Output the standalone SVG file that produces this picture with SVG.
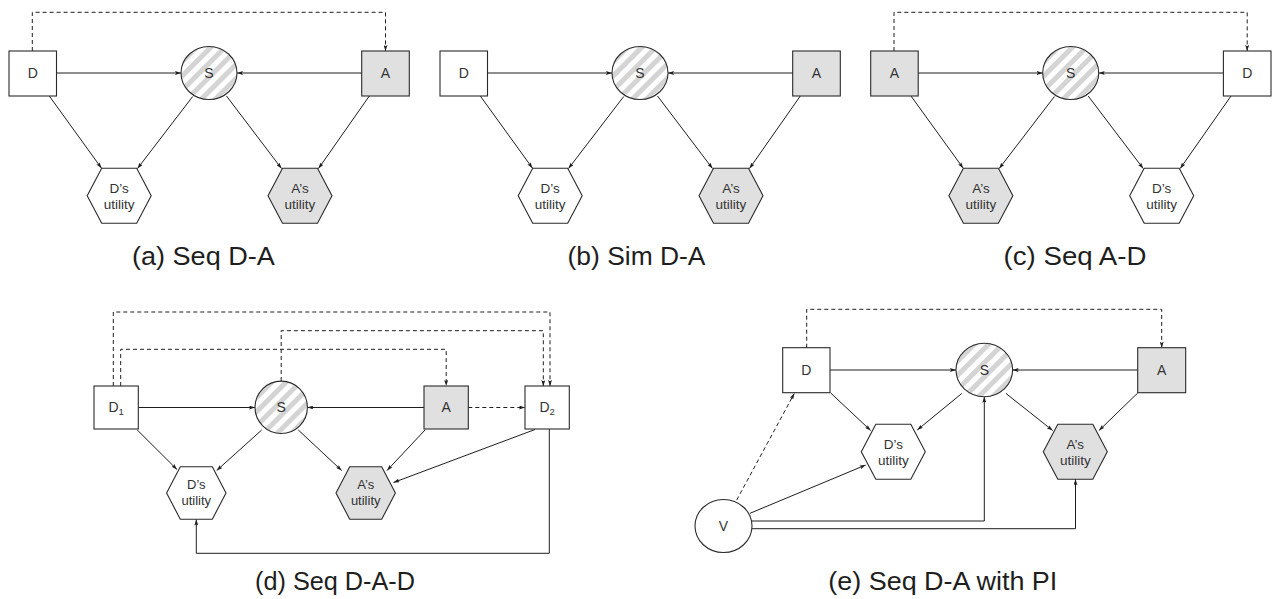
<svg xmlns="http://www.w3.org/2000/svg" width="1272" height="599" viewBox="0 0 1272 599">
  <defs>
    <!-- diagonal light-grey hatching for chance nodes -->
    <pattern id="hatch" width="10" height="10" patternUnits="userSpaceOnUse" patternTransform="rotate(45)">
      <rect width="10" height="10" fill="#ffffff"/>
      <rect width="5" height="10" fill="#d4d4d4"/>
    </pattern>
    <marker id="ah" viewBox="0 0 6 4" refX="6" refY="2" markerWidth="6" markerHeight="4" orient="auto" markerUnits="userSpaceOnUse">
      <path d="M0,0 L6,2 L0,4 L1.2,2 z" fill="#1e1e1e"/>
    </marker>
    <style>
      .box { fill: #ffffff; stroke: #2a2a2a; stroke-width: 1.1; }
      .gray { fill: #e0e0e0; }
      .chance { fill: url(#hatch); stroke: #2a2a2a; stroke-width: 1.1; }
      .plain { fill: #ffffff; stroke: #2a2a2a; stroke-width: 1.1; }
      .lbl { font-family: "Liberation Sans", Arial, sans-serif; font-size: 14px; fill: #333333; text-anchor: middle; }
      .hx { font-size: 13.5px; }
      .sm { font-size: 13px; }
      .cap { font-family: "Liberation Sans", Arial, sans-serif; font-size: 25px; fill: #1e1e1e; text-anchor: middle; }
      .capb { font-size: 26px; }
      .e { fill: none; stroke: #1e1e1e; stroke-width: 1; marker-end: url(#ah); }
      .dash { stroke-dasharray: 4 3; }
    </style>
  </defs>

  <!-- ===== (a) sequential defender-attacker ===== -->
  <g id="panel-a">
    <g id="a-connectors">
      <path class="e dash" d="M32.3,51 V12.3 H385.5 V51"/>
      <path class="e" d="M56.5,73 H181"/>
      <path class="e" d="M361.7,73 H237"/>
      <path class="e" d="M49.3,96 L101.5,168.2"/>
      <path class="e" d="M192.7,96.5 L137.5,168.5"/>
      <path class="e" d="M226.5,96 L281.5,168.5"/>
      <path class="e" d="M369.3,96 L318.5,168.5"/>
    </g>
    <g id="a-D"><rect class="box" x="9" y="51" width="47.5" height="45"/><text class="lbl" x="32.7" y="78">D</text></g>
    <g id="a-S"><ellipse class="chance" cx="209" cy="73" rx="28" ry="26.5"/><text class="lbl" x="209" y="78">S</text></g>
    <g id="a-A"><rect class="box gray" x="361.7" y="51" width="47.6" height="45"/><text class="lbl" x="385.5" y="78">A</text></g>
    <g id="a-DU"><path class="box" d="M87.2,195.7 L101.7,168.2 L136.7,168.2 L151.2,195.7 L136.7,223.2 L101.7,223.2 z"/><text class="lbl hx" x="119.2" y="193">D’s</text><text class="lbl hx" x="119.2" y="209">utility</text></g>
    <g id="a-AU"><path class="box gray" d="M268,195.7 L282.5,168.2 L317.5,168.2 L332,195.7 L317.5,223.2 L282.5,223.2 z"/><text class="lbl hx" x="300" y="193">A’s</text><text class="lbl hx" x="300" y="209">utility</text></g>
    <text class="cap" x="203.4" y="264.5" textLength="143" lengthAdjust="spacingAndGlyphs">(a) Seq D-A</text>
  </g>

  <!-- ===== (b) simultaneous defender-attacker ===== -->
  <g id="panel-b">
    <g transform="translate(431,0)">
      <g id="b-connectors">
        <path class="e" d="M56.5,73 H181"/>
        <path class="e" d="M361.7,73 H237"/>
        <path class="e" d="M49.3,96 L101.5,168.2"/>
        <path class="e" d="M192.7,96.5 L137.5,168.5"/>
        <path class="e" d="M226.5,96 L281.5,168.5"/>
        <path class="e" d="M369.3,96 L318.5,168.5"/>
      </g>
      <g id="b-D"><rect class="box" x="9" y="51" width="47.5" height="45"/><text class="lbl" x="32.7" y="78">D</text></g>
      <g id="b-S"><ellipse class="chance" cx="209" cy="73" rx="28" ry="26.5"/><text class="lbl" x="209" y="78">S</text></g>
      <g id="b-A"><rect class="box gray" x="361.7" y="51" width="47.6" height="45"/><text class="lbl" x="385.5" y="78">A</text></g>
      <g id="b-DU"><path class="box" d="M87.2,195.7 L101.7,168.2 L136.7,168.2 L151.2,195.7 L136.7,223.2 L101.7,223.2 z"/><text class="lbl hx" x="119.2" y="193">D’s</text><text class="lbl hx" x="119.2" y="209">utility</text></g>
      <g id="b-AU"><path class="box gray" d="M268,195.7 L282.5,168.2 L317.5,168.2 L332,195.7 L317.5,223.2 L282.5,223.2 z"/><text class="lbl hx" x="300" y="193">A’s</text><text class="lbl hx" x="300" y="209">utility</text></g>
    </g>
    <text class="cap" x="636.5" y="264.5" textLength="138" lengthAdjust="spacingAndGlyphs">(b) Sim D-A</text>
  </g>

  <!-- ===== (c) sequential attacker-defender ===== -->
  <g id="panel-c">
    <g transform="translate(861.7,0)">
      <g id="c-connectors">
        <path class="e dash" d="M32.3,51 V12.3 H385.5 V51"/>
        <path class="e" d="M56.5,73 H181"/>
        <path class="e" d="M361.7,73 H237"/>
        <path class="e" d="M49.3,96 L101.5,168.2"/>
        <path class="e" d="M192.7,96.5 L137.5,168.5"/>
        <path class="e" d="M226.5,96 L281.5,168.5"/>
        <path class="e" d="M369.3,96 L318.5,168.5"/>
      </g>
      <g id="c-A"><rect class="box gray" x="9" y="51" width="47.5" height="45"/><text class="lbl" x="32.7" y="78">A</text></g>
      <g id="c-S"><ellipse class="chance" cx="209" cy="73" rx="28" ry="26.5"/><text class="lbl" x="209" y="78">S</text></g>
      <g id="c-D"><rect class="box" x="361.7" y="51" width="47.6" height="45"/><text class="lbl" x="385.5" y="78">D</text></g>
      <g id="c-AU"><path class="box gray" d="M87.2,195.7 L101.7,168.2 L136.7,168.2 L151.2,195.7 L136.7,223.2 L101.7,223.2 z"/><text class="lbl hx" x="119.2" y="193">A’s</text><text class="lbl hx" x="119.2" y="209">utility</text></g>
      <g id="c-DU"><path class="box" d="M268,195.7 L282.5,168.2 L317.5,168.2 L332,195.7 L317.5,223.2 L282.5,223.2 z"/><text class="lbl hx" x="300" y="193">D’s</text><text class="lbl hx" x="300" y="209">utility</text></g>
    </g>
    <text class="cap" x="1075" y="264.5" textLength="143" lengthAdjust="spacingAndGlyphs">(c) Seq A-D</text>
  </g>

  <!-- ===== (d) sequential defender-attacker-defender ===== -->
  <g id="panel-d">
    <g id="d-connectors">
      <path class="e dash" d="M113.3,386 V312 H550 V386"/>
      <path class="e dash" d="M120.7,386 V349.3 H446.2 V386"/>
      <path class="e dash" d="M281.2,381 V330.7 H543.3 V386"/>
      <path class="e dash" d="M468.3,407.5 H525"/>
      <path class="e" d="M138.3,407.5 H255"/>
      <path class="e" d="M424,407.5 H307.4"/>
      <path class="e" d="M137.3,430 L177,469.5"/>
      <path class="e" d="M261.7,430 L216.7,470.5"/>
      <path class="e" d="M298.3,430 L341.7,470.5"/>
      <path class="e" d="M425,430 L387,470.5"/>
      <path class="e" d="M535,429.5 L393.5,482.5"/>
      <path class="e" d="M549.3,429 V553.3 H196.3 V519.5"/>
    </g>
    <g id="d-D1"><rect class="box" x="94" y="386" width="44.3" height="43"/><text class="lbl" x="116.2" y="412">D<tspan font-size="9.5" dy="2.5">1</tspan></text></g>
    <g id="d-S"><ellipse class="chance" cx="281.2" cy="407.3" rx="26.2" ry="26.2"/><text class="lbl" x="281.2" y="412">S</text></g>
    <g id="d-A"><rect class="box gray" x="424" y="386" width="44.3" height="43"/><text class="lbl" x="446.2" y="412">A</text></g>
    <g id="d-D2"><rect class="box" x="525" y="386" width="44.3" height="43"/><text class="lbl" x="547.2" y="412">D<tspan font-size="9.5" dy="2.5">2</tspan></text></g>
    <g id="d-DU"><path class="box" d="M166.6,493 L180.3,466.7 L212.3,466.7 L226,493 L212.3,519.3 L180.3,519.3 z"/><text class="lbl sm" x="196.3" y="488.5">D’s</text><text class="lbl sm" x="196.3" y="505">utility</text></g>
    <g id="d-AU"><path class="box gray" d="M336,493 L349.7,466.7 L381.7,466.7 L395.4,493 L381.7,519.3 L349.7,519.3 z"/><text class="lbl sm" x="365.7" y="488.5">A’s</text><text class="lbl sm" x="365.7" y="505">utility</text></g>
    <text class="cap capb" x="335" y="590" textLength="160" lengthAdjust="spacingAndGlyphs">(d) Seq D-A-D</text>
  </g>

  <!-- ===== (e) sequential defender-attacker with perfect information ===== -->
  <g id="panel-e">
    <g id="e-connectors">
      <path class="e dash" d="M806.7,347.7 V309.3 H1161.7 V347.7"/>
      <path class="e" d="M830,370 H956"/>
      <path class="e" d="M1137.7,370 H1012.6"/>
      <path class="e" d="M830.7,393 L870.7,430.5"/>
      <path class="e" d="M961.7,393.5 L917.3,430"/>
      <path class="e" d="M1006,393.5 L1052.7,430.5"/>
      <path class="e" d="M1137.7,393 L1099,430.5"/>
      <path class="e dash" d="M736.7,500 L794.3,393.5"/>
      <path class="e" d="M750,513.3 L865.7,465"/>
      <path class="e" d="M752,521 H984.3 V396.7"/>
      <path class="e" d="M752,528.7 H1075.5 V479.3"/>
    </g>
    <g id="e-D"><rect class="box" x="782.7" y="347.7" width="47.3" height="45"/><text class="lbl" x="806.3" y="375">D</text></g>
    <g id="e-S"><ellipse class="chance" cx="984.3" cy="370" rx="28.3" ry="26.7"/><text class="lbl" x="984.3" y="375">S</text></g>
    <g id="e-A"><rect class="box gray" x="1137.7" y="347.7" width="48" height="45"/><text class="lbl" x="1161.7" y="375">A</text></g>
    <g id="e-DU"><path class="box" d="M861.3,451.7 L875.8,424.2 L910.8,424.2 L925.3,451.7 L910.8,479.2 L875.8,479.2 z"/><text class="lbl hx" x="893.3" y="449">D’s</text><text class="lbl hx" x="893.3" y="465">utility</text></g>
    <g id="e-AU"><path class="box gray" d="M1043.3,451.7 L1057.8,424.2 L1092.8,424.2 L1107.3,451.7 L1092.8,479.2 L1057.8,479.2 z"/><text class="lbl hx" x="1075.3" y="449">A’s</text><text class="lbl hx" x="1075.3" y="465">utility</text></g>
    <g id="e-V"><ellipse class="plain" cx="723.5" cy="526" rx="28.5" ry="26.5"/><text class="lbl" x="723.5" y="531">V</text></g>
    <text class="cap capb" x="942.8" y="590" textLength="229" lengthAdjust="spacingAndGlyphs">(e) Seq D-A with PI</text>
  </g>
</svg>
